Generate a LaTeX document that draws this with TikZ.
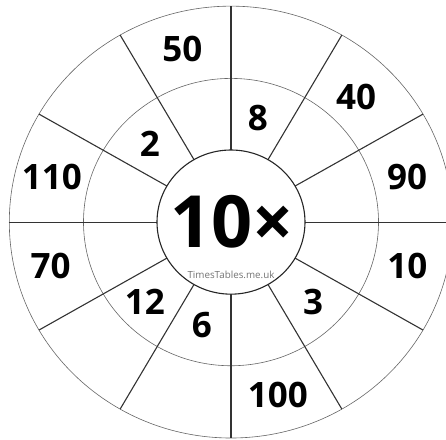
\documentclass[tikz,border=0pt]{standalone}
\usepackage{fontspec}
\setmainfont{Open Sans}
\usepackage{tikz}
\usetikzlibrary{positioning}

\begin{document}
\begin{tikzpicture}[x=1pt, y=0.974pt,
    ring/.style={draw=black!60, line width=0.6pt},
    hub/.style={draw=black!85, line width=1.1pt},
    spoke/.style={draw=black!80, line width=1.1pt},
    num/.style={font=\fontsize{35}{35}\bfseries\selectfont, inner sep=0pt}]
  \clip (-231,-222.8) rectangle (215,228);

  % rings and spokes
  \draw[ring] (0,0) circle (221.7);
  \draw[ring] (0,0) circle (147.5);
  \foreach \a in {0,30,...,330}
    \draw[spoke] (\a:74) -- (\a:221.7);
  \draw[hub, fill=white] (0,0) circle (74);

  % centre
  \node[font=\fontsize{72}{72}\bfseries\selectfont, inner sep=0pt] (title) at (1,0) {10×};
  \node[font=\fontsize{9.8}{9.8}\selectfont, text=black!55, inner sep=0pt] (site) at (0,-54.5) {TimesTables.me.uk};

  % inner ring
  \node[num] (i8) at (75.8:110) {8};
  \node[num] (i2) at (135.4:114) {2};
  \node[num] (i3) at (-45:116) {3};
  \node[num] (i12) at (223.6:119) {12};
  \node[num] (i6) at (254.7:110) {6};

  % outer ring
  \node[num] (o50) at (105.3:184) {50};
  \node[num] (o40) at (45.7:179) {40};
  \node[num] (o90) at (14.7:182) {90};
  \node[num] (o10) at (-14.3:182) {10};
  \node[num] (o100) at (-75.2:183.5) {100};
  \node[num] (o70) at (194:186) {70};
  \node[num] (o110) at (165.6:185) {110};
\end{tikzpicture}
\end{document}
